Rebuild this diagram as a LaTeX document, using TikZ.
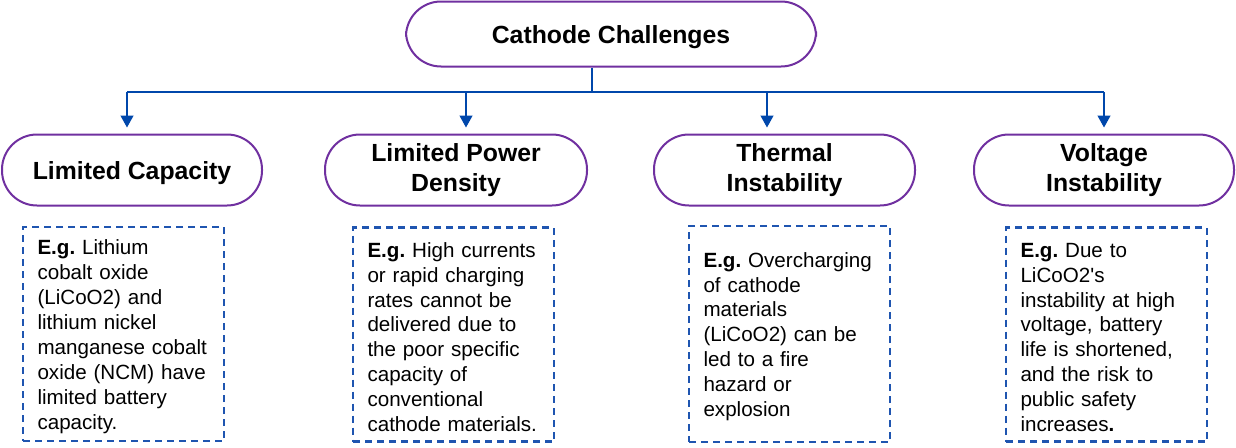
\documentclass[tikz,border=0pt]{standalone}
\usepackage{fontspec}
\setmainfont{Liberation Sans}
\usetikzlibrary{arrows.meta}
\definecolor{pillpurple}{HTML}{7030A0}
\definecolor{linkblue}{HTML}{0047AB}
\definecolor{dashblue}{HTML}{1F55B0}
\frenchspacing
\newcommand{\egfirst}{\rule{0pt}{20pt}\textbf{E.g.}}
\begin{document}
\begin{tikzpicture}[x=1pt,y=-1pt,
  pill/.style={draw=pillpurple,line width=2pt,rounded corners=35pt,fill=white,
    align=center,inner sep=0pt,minimum height=71pt,
    font=\fontsize{24.8}{30}\selectfont\bfseries},
  oneline/.style={text height=18pt,text depth=0pt},
  ebox/.style={draw=dashblue,line width=2.2pt,dash pattern=on 7pt off 5pt,
    text width=172pt,align=left,inner xsep=14.5pt,inner ysep=0pt,
    minimum height=214pt,font=\fontsize{20.6}{24.9}\selectfont},
  link/.style={draw=linkblue,line width=1.3pt},
  arr/.style={link,-{Triangle[length=12pt,width=13pt]},shorten >=6pt}]
\useasboundingbox (0,0) rectangle (1236,447);
\node[pill,oneline,minimum width=410pt,minimum height=65pt] (top) at (611,34) {Cathode Challenges};
\node[pill,oneline,minimum width=260pt] (n1) at (132,170) {Limited Capacity};
\node[pill,minimum width=262pt] (n2) at (456,170) {Limited Power\\Density};
\node[pill,minimum width=261pt] (n3) at (784.5,170) {Thermal\\Instability};
\node[pill,minimum width=260pt] (n4) at (1104,170) {Voltage\\Instability};
\node[ebox] (b1) at (123.5,334) {\egfirst{} Lithium\\cobalt oxide\\(LiCoO2) and\\lithium nickel\\manganese cobalt\\oxide (NCM) have\\limited battery\\capacity.};
\node[ebox] (b2) at (453.5,334.5) {\egfirst{} High currents\\or rapid charging\\rates cannot be\\delivered due to\\the poor specific\\capacity of\\conventional\\cathode materials.};
\node[ebox,minimum height=216pt] (b3) at (789.5,334) {\egfirst{} Overcharging\\of cathode\\materials\\(LiCoO2) can be\\led to a fire\\hazard or\\explosion};
\node[ebox] (b4) at (1106.5,334.5) {\egfirst{} Due to\\LiCoO2\textquotesingle s\\instability at high\\voltage, battery\\life is shortened,\\and the risk to\\public safety\\increases\textbf{.}};
\coordinate (j) at (592,92);
\coordinate (a1) at (127,92);
\coordinate (a2) at (466,92);
\coordinate (a3) at (767,92);
\coordinate (a4) at (1104,92);
\draw[link] (top.south -| j) -- (j);
\draw[link] (a1) -- (a4);
\draw[arr] (a1) -- (a1 |- n1.north);
\draw[arr] (a2) -- (a2 |- n2.north);
\draw[arr] (a3) -- (a3 |- n3.north);
\draw[arr] (a4) -- (a4 |- n4.north);
\end{tikzpicture}
\end{document}
